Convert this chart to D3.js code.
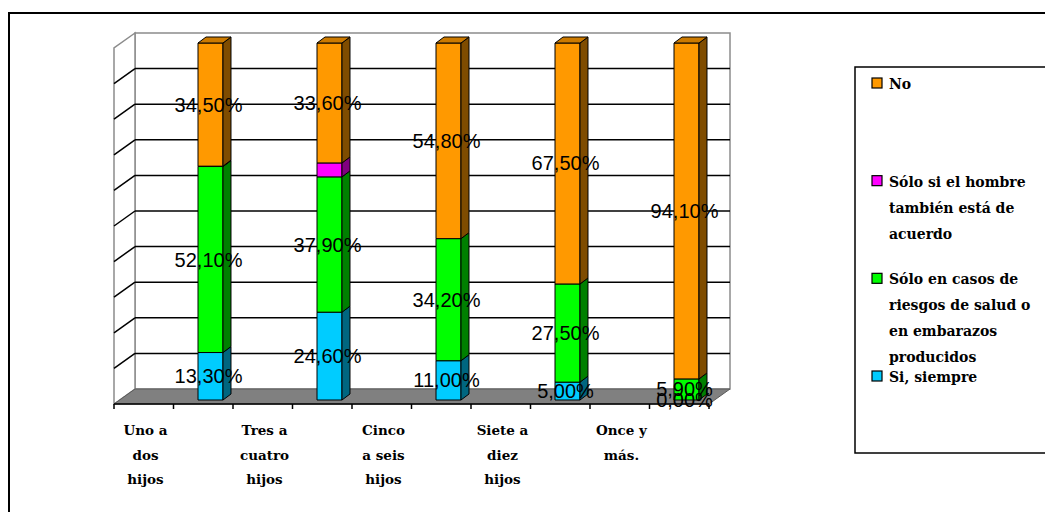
<!DOCTYPE html>
<html>
<head>
<meta charset="utf-8">
<script src="https://cdn.jsdelivr.net/npm/d3@7"></script>
<style>
  html, body { margin: 0; padding: 0; background: #fff; }
  svg { display: block; }
</style>
</head>
<body>
<svg id="chart" width="1045" height="512"></svg>
<script>
// Categories (number of children) and their wrapped axis labels
const categories = ["Uno a dos hijos", "Tres a cuatro hijos", "Cinco a seis hijos", "Siete a diez hijos", "Once y más."];
const categoryLines = [["Uno a", "dos", "hijos"], ["Tres a", "cuatro", "hijos"], ["Cinco", "a seis", "hijos"], ["Siete a", "diez", "hijos"], ["Once y", "más."]];

// Percentages per answer, stacked bottom to top
const siSiempre  = [13.3, 24.6, 11.0, 5.0, 0.0];
const soloSalud  = [52.1, 37.9, 34.2, 27.5, 5.9];
const soloHombre = [0.1, 3.9, 0.0, 0.0, 0.0];
const noValues   = [34.5, 33.6, 54.8, 67.5, 94.1];

const seriesKeys = ["si", "salud", "hombre", "no"];
const seriesNames = ["Si, siempre", "Sólo en casos de riesgos de salud o en embarazos producidos", "Sólo si el hombre también está de acuerdo", "No"];
const legendLines = {
  no: ["No"],
  hombre: ["Sólo si el hombre", "también está de", "acuerdo"],
  salud: ["Sólo en casos de", "riesgos de salud o", "en embarazos", "producidos"],
  si: ["Si, siempre"]
};
const labelledSeries = ["si", "salud", "no"];

const rows = categories.map((c, i) => ({
  cat: c, si: siSiempre[i], salud: soloSalud[i], hombre: soloHombre[i], no: noValues[i]
}));

const colors = {
  si:     { front: "#00CCFF", side: "#006680", top: "#00A3CC" },
  salud:  { front: "#00FF00", side: "#008000", top: "#00CC00" },
  hombre: { front: "#FF00FF", side: "#800080", top: "#CC00CC" },
  no:     { front: "#FF9900", side: "#7F4C00", top: "#CC7A00" }
};

const svg = d3.select("#chart");

// Outer chart frame
svg.append("rect").attr("x", 9).attr("y", 13).attr("width", 1100).attr("height", 600)
  .attr("fill", "none").attr("stroke", "#000").attr("stroke-width", 2);

// Wall geometry: back wall plane and the depth shift to the front plane
const wallLeft = 135, wallRight = 730;
const depthDx = -21, depthDy = 15;
const yWall = d3.scaleLinear().domain([0, 100]).range([389, 33]);
const yBar = d3.scaleLinear().domain([0, 100]).range([400, 43]);

const walls = svg.append("g");
// back wall
walls.append("rect").attr("x", wallLeft).attr("y", yWall(100))
  .attr("width", wallRight - wallLeft).attr("height", yWall(0) - yWall(100))
  .attr("fill", "#fff").attr("stroke", "#8c8c8c").attr("stroke-width", 1.5);
// side wall
walls.append("path")
  .attr("d", `M${wallLeft},${yWall(100)} L${wallLeft + depthDx},${yWall(100) + depthDy} L${wallLeft + depthDx},${yWall(0) + depthDy} L${wallLeft},${yWall(0)} Z`)
  .attr("fill", "#fff").attr("stroke", "#8c8c8c").attr("stroke-width", 1.5);
// floor
walls.append("path")
  .attr("d", `M${wallLeft},${yWall(0)} L${wallRight},${yWall(0)} L${wallRight + depthDx},${yWall(0) + depthDy} L${wallLeft + depthDx},${yWall(0) + depthDy} Z`)
  .attr("fill", "#808080").attr("stroke", "#5a5a5a").attr("stroke-width", 1);

// Gridlines on back and side walls
const gridTicks = yWall.ticks(10).filter(t => t > 0 && t < 100);
const grid = svg.append("g").attr("stroke", "#000").attr("stroke-width", 1.5);
grid.selectAll("line.back").data(gridTicks).join("line").attr("class", "back")
  .attr("x1", wallLeft).attr("x2", wallRight)
  .attr("y1", d => yWall(d)).attr("y2", d => yWall(d));
grid.selectAll("line.side").data(gridTicks).join("line").attr("class", "side")
  .attr("x1", wallLeft).attr("x2", wallLeft + depthDx)
  .attr("y1", d => yWall(d)).attr("y2", d => yWall(d) + depthDy);

// Category axis along the front edge of the floor
const axisY = yWall(0) + depthDy;
const tickScale = d3.scaleLinear().domain([0, 10]).range([wallLeft + depthDx, wallRight + depthDx]);
const axisG = svg.append("g").attr("stroke", "#000").attr("stroke-width", 1.5);
axisG.append("line").attr("x1", tickScale(0)).attr("x2", tickScale(10)).attr("y1", axisY).attr("y2", axisY);
axisG.selectAll("line.tick").data(tickScale.ticks(10)).join("line").attr("class", "tick")
  .attr("x1", d => tickScale(d)).attr("x2", d => tickScale(d))
  .attr("y1", axisY).attr("y2", axisY + 5);

// Bars
const x = d3.scaleBand().domain(categories).range([151, 746]).paddingInner(0.79).paddingOuter(0.395);
const bw = x.bandwidth();
const barDx = 8, barDy = -6;

const stacked = d3.stack().keys(seriesKeys)(rows);
const barsG = svg.append("g").attr("stroke", "#000").attr("stroke-width", 1).attr("stroke-linejoin", "round");

stacked.forEach((layer, li) => {
  const key = layer.key;
  const isTop = li === stacked.length - 1;
  layer.forEach(d => {
    if (d[1] - d[0] <= 0) return;
    const x0 = x(d.data.cat);
    const yt = yBar(d[1]), yb = yBar(d[0]);
    const g = barsG.append("g");
    g.append("rect").attr("x", x0).attr("y", yt).attr("width", bw).attr("height", yb - yt)
      .attr("fill", colors[key].front);
    g.append("path")
      .attr("d", `M${x0 + bw},${yt} L${x0 + bw + barDx},${yt + barDy} L${x0 + bw + barDx},${yb + barDy} L${x0 + bw},${yb} Z`)
      .attr("fill", colors[key].side);
    if (isTop) {
      g.append("path")
        .attr("d", `M${x0},${yt} L${x0 + barDx},${yt + barDy} L${x0 + bw + barDx},${yt + barDy} L${x0 + bw},${yt} Z`)
        .attr("fill", colors[key].top);
    }
  });
});

// Value labels
const locale = d3.formatLocale({ decimal: ",", thousands: ".", grouping: [3], currency: ["", ""] });
const fmt = locale.format(".2f");
const labelsG = svg.append("g").attr("font-family", "'Liberation Sans', Arial, sans-serif")
  .attr("font-size", 20).attr("fill", "#000").attr("text-anchor", "middle");
stacked.filter(l => labelledSeries.includes(l.key)).forEach(layer => {
  layer.forEach(d => {
    const cx = x(d.data.cat) + bw / 2 - 2;
    const cy = (yBar(d[0]) + yBar(d[1])) / 2;
    labelsG.append("text").attr("x", cx).attr("y", cy + 7)
      .text(fmt(d[1] - d[0]) + "%");
  });
});

// Category labels
const catG = svg.append("g").attr("font-family", "'DejaVu Serif', serif").attr("font-weight", "bold")
  .attr("font-size", 13.5).attr("fill", "#000").attr("text-anchor", "middle");
categories.forEach((c, i) => {
  const cx = x(c) + bw / 2 - 65;
  const t = catG.append("text");
  categoryLines[i].forEach((line, j) => {
    t.append("tspan").attr("x", cx).attr("y", 435 + j * 24.5).text(line);
  });
});

// Legend
const legendOrder = ["no", "hombre", "salud", "si"];
svg.append("rect").attr("x", 855).attr("y", 67).attr("width", 300).attr("height", 386)
  .attr("fill", "#fff").attr("stroke", "#000").attr("stroke-width", 1.5);
const ly = d3.scalePoint().domain(legendOrder).range([84, 377]);
const legG = svg.append("g").attr("font-family", "'DejaVu Serif', serif").attr("font-weight", "bold")
  .attr("font-size", 14).attr("fill", "#000");
legendOrder.forEach(k => {
  const y0 = ly(k);
  legG.append("rect").attr("x", 872).attr("y", y0 - 6).attr("width", 10).attr("height", 10)
    .attr("fill", colors[k].front).attr("stroke", "#000").attr("stroke-width", 1.2);
  const t = legG.append("text");
  legendLines[k].forEach((line, j) => {
    t.append("tspan").attr("x", 889).attr("y", y0 + 5 + j * 26).text(line);
  });
});
</script>
</body>
</html>
